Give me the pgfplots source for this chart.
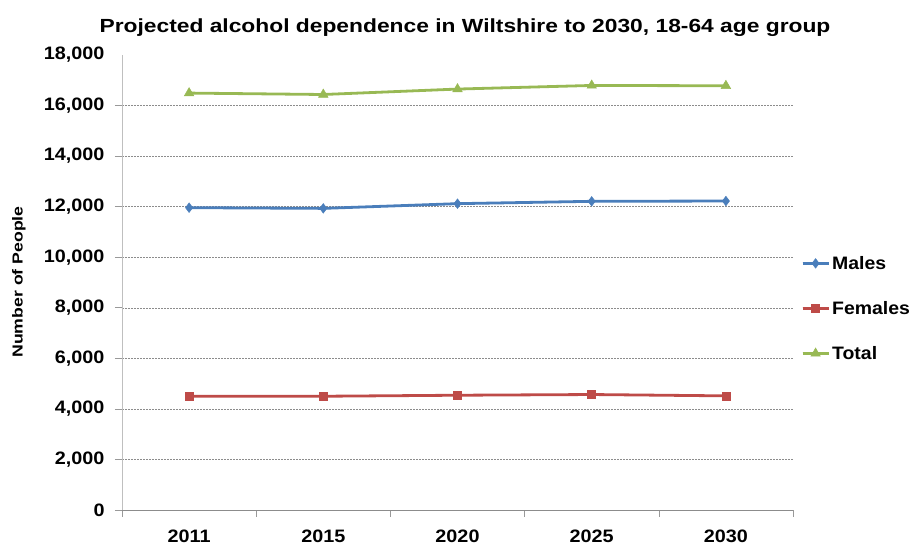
\documentclass[border=0pt]{standalone}
\usepackage{pgfplots}
\pgfplotsset{compat=1.18}
\usepackage{fontspec}
\setmainfont{Liberation Sans}
\definecolor{mblue}{HTML}{4A7EBB}
\definecolor{fred}{HTML}{BE4B48}
\definecolor{tgreen}{HTML}{98B954}
\begin{document}
\begin{tikzpicture}
\begin{axis}[
  at={(0pt,0pt)}, anchor=south west,
  scale only axis, width=671pt, height=455pt,
  xmin=-0.5, xmax=4.5, ymin=0, ymax=18000,
  xtick={-0.5,0.5,1.5,2.5,3.5,4.5},
  xticklabels={2011,2015,2020,2025,2030,},
  x tick label as interval,
  ytick={0,2000,4000,6000,8000,10000,12000,14000,16000},
  extra y ticks={18000},
  extra y tick style={grid=none, tick style={draw=none}},
  scaled y ticks=false,
  axis x line*=bottom, axis y line*=left,
  x axis line style={draw=black!45, line width=0.8pt, -},
  y axis line style={draw=black!25, line width=0.8pt, -},
  tick align=outside, major tick length=7pt,
  tick style={draw=black!40, line width=0.6pt},
  ymajorgrids,
  grid style={draw=black!45, line width=0.5pt, dash pattern=on 2pt off 1pt},
  /pgf/number format/fixed,
  /pgf/number format/1000 sep={,},
  /pgf/number format/assume math mode=true,
  tick label style={font=\bfseries\fontsize{18}{20}\selectfont, xscale=1.1},
  yticklabel style={xshift=-6pt},
  xticklabel style={yshift=-9pt},
  legend style={at={(1,0.443)}, anchor=west, xshift=8pt, draw=none, fill=none,
    font=\bfseries\fontsize{18}{20}\selectfont, row sep=26.5pt, inner sep=0pt,
    nodes={xscale=1.08}},
  legend cell align=left,
  legend image code/.code={
    \draw[#1, mark=none] (0pt,0pt) -- (26pt,0pt);
    \draw[#1, mark repeat=2, mark phase=2] plot coordinates {(0pt,0pt) (13pt,0pt) (26pt,0pt)};
  },
]
\addplot[color=mblue, line width=2.8pt, mark=diamond*, mark size=4.8pt, mark options={solid, line width=0.5pt}]
  coordinates {(0,11960) (1,11932) (2,12119) (3,12211) (4,12223)};
\addlegendentry{Males}
\addplot[color=fred, line width=2.8pt, mark=square*, mark size=4pt, mark options={solid, line width=0.5pt}]
  coordinates {(0,4501) (1,4500) (2,4540) (3,4568) (4,4515)};
\addlegendentry{Females}
\addplot[color=tgreen, line width=2.8pt, mark=triangle*, mark size=5.5pt, mark options={solid, line width=0.5pt}]
  coordinates {(0,16493) (1,16437) (2,16652) (3,16795) (4,16783)};
\addlegendentry{Total}
\end{axis}
\node[anchor=base, xscale=1.2, font=\bfseries\fontsize{19}{22}\selectfont] at (343pt,477pt)
  {Projected alcohol dependence in Wiltshire to 2030, 18-64 age group};
\node[rotate=90, font=\bfseries\fontsize{14.5}{16}\selectfont] at (-103pt,228pt)
  {\scalebox{1.22}[1]{Number of People}};
\pgfresetboundingbox
\path[use as bounding box] (-122pt,-35pt) rectangle (788pt,510pt);
\end{tikzpicture}
\end{document}
